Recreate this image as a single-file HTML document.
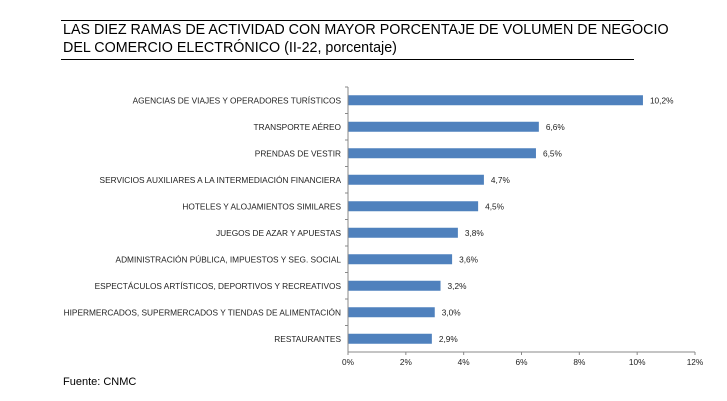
<!DOCTYPE html>
<html><head><meta charset="utf-8"><style>
body{margin:0;background:#fff;font-family:"Liberation Sans",sans-serif;}
#wrap{position:relative;width:727px;height:401px;overflow:hidden;}
.title{position:absolute;left:63px;top:21px;font-size:14.3px;line-height:18px;color:#000;}
.hl{position:absolute;left:61px;width:573px;height:1px;background:#000;}
.src{position:absolute;left:63px;top:376px;font-size:11px;}
</style></head><body>
<div id="wrap">
<div class="hl" style="top:20px"></div>
<div class="title">LAS DIEZ RAMAS DE ACTIVIDAD CON MAYOR PORCENTAJE DE VOLUMEN DE NEGOCIO<br>DEL COMERCIO ELECTRÓNICO (II-22, porcentaje)</div>
<div class="hl" style="top:59px"></div>
<svg id="chart" width="727" height="401" style="position:absolute;left:0;top:0"></svg>
<div class="src">Fuente: CNMC</div>
</div>
<script>
const categories=["AGENCIAS DE VIAJES Y OPERADORES TURÍSTICOS","TRANSPORTE AÉREO","PRENDAS DE VESTIR","SERVICIOS AUXILIARES A LA INTERMEDIACIÓN FINANCIERA","HOTELES  Y ALOJAMIENTOS SIMILARES","JUEGOS DE AZAR Y APUESTAS","ADMINISTRACIÓN PÚBLICA, IMPUESTOS Y SEG. SOCIAL","ESPECTÁCULOS ARTÍSTICOS, DEPORTIVOS Y RECREATIVOS","HIPERMERCADOS, SUPERMERCADOS Y TIENDAS DE ALIMENTACIÓN","RESTAURANTES"];
const values=[10.2,6.6,6.5,4.7,4.5,3.8,3.6,3.2,3.0,2.9];
const valueLabels=["10,2%","6,6%","6,5%","4,7%","4,5%","3,8%","3,6%","3,2%","3,0%","2,9%"];
const ticks=[0,2,4,6,8,10,12];
const svg=document.getElementById('chart');
const NS='http://www.w3.org/2000/svg';
const x0=348,x1=695,yTop=87,yBot=352;
const xs=v=>x0+(v-0)/(12-0)*(x1-x0);
const band=(yBot-yTop)/categories.length;
const yc=i=>yTop+band*(i+0.5);
function mk(t,a){const e=document.createElementNS(NS,t);for(const k in a)e.setAttribute(k,a[k]);svg.appendChild(e);return e;}
categories.forEach((c,i)=>{
 const r=mk('rect',{x:xs(0),y:yc(i)-5,width:xs(values[i])-xs(0),height:10,fill:'#4f81bd'});
 
 
 const l=mk('text',{x:341,y:yc(i)+3,'text-anchor':'end','font-size':'8.3','fill':'#222'});
 l.textContent=c;
 
 
 const v=mk('text',{x:xs(values[i])+7,y:yc(i)+3,'font-size':'8.3','fill':'#222'});
 v.textContent=valueLabels[i];
 
 
 const tk=mk('line',{x1:x0-3,x2:x0,y1:yTop+band*i,y2:yTop+band*i,stroke:'#888'});
 
 
});
const ya=mk('line',{x1:x0,x2:x0,y1:yTop,y2:yBot,stroke:'#888'});


const xa=mk('line',{x1:x0,x2:x1,y1:yBot,y2:yBot,stroke:'#888'});


ticks.forEach(t=>{
 const tl=mk('line',{x1:xs(t),x2:xs(t),y1:yBot,y2:yBot+3,stroke:'#888'});
 
 
 const tx=mk('text',{x:xs(t),y:365,'text-anchor':'middle','font-size':'8.3','fill':'#222'});
 tx.textContent=t+'%';
 
 
});
</script>
</body></html>
